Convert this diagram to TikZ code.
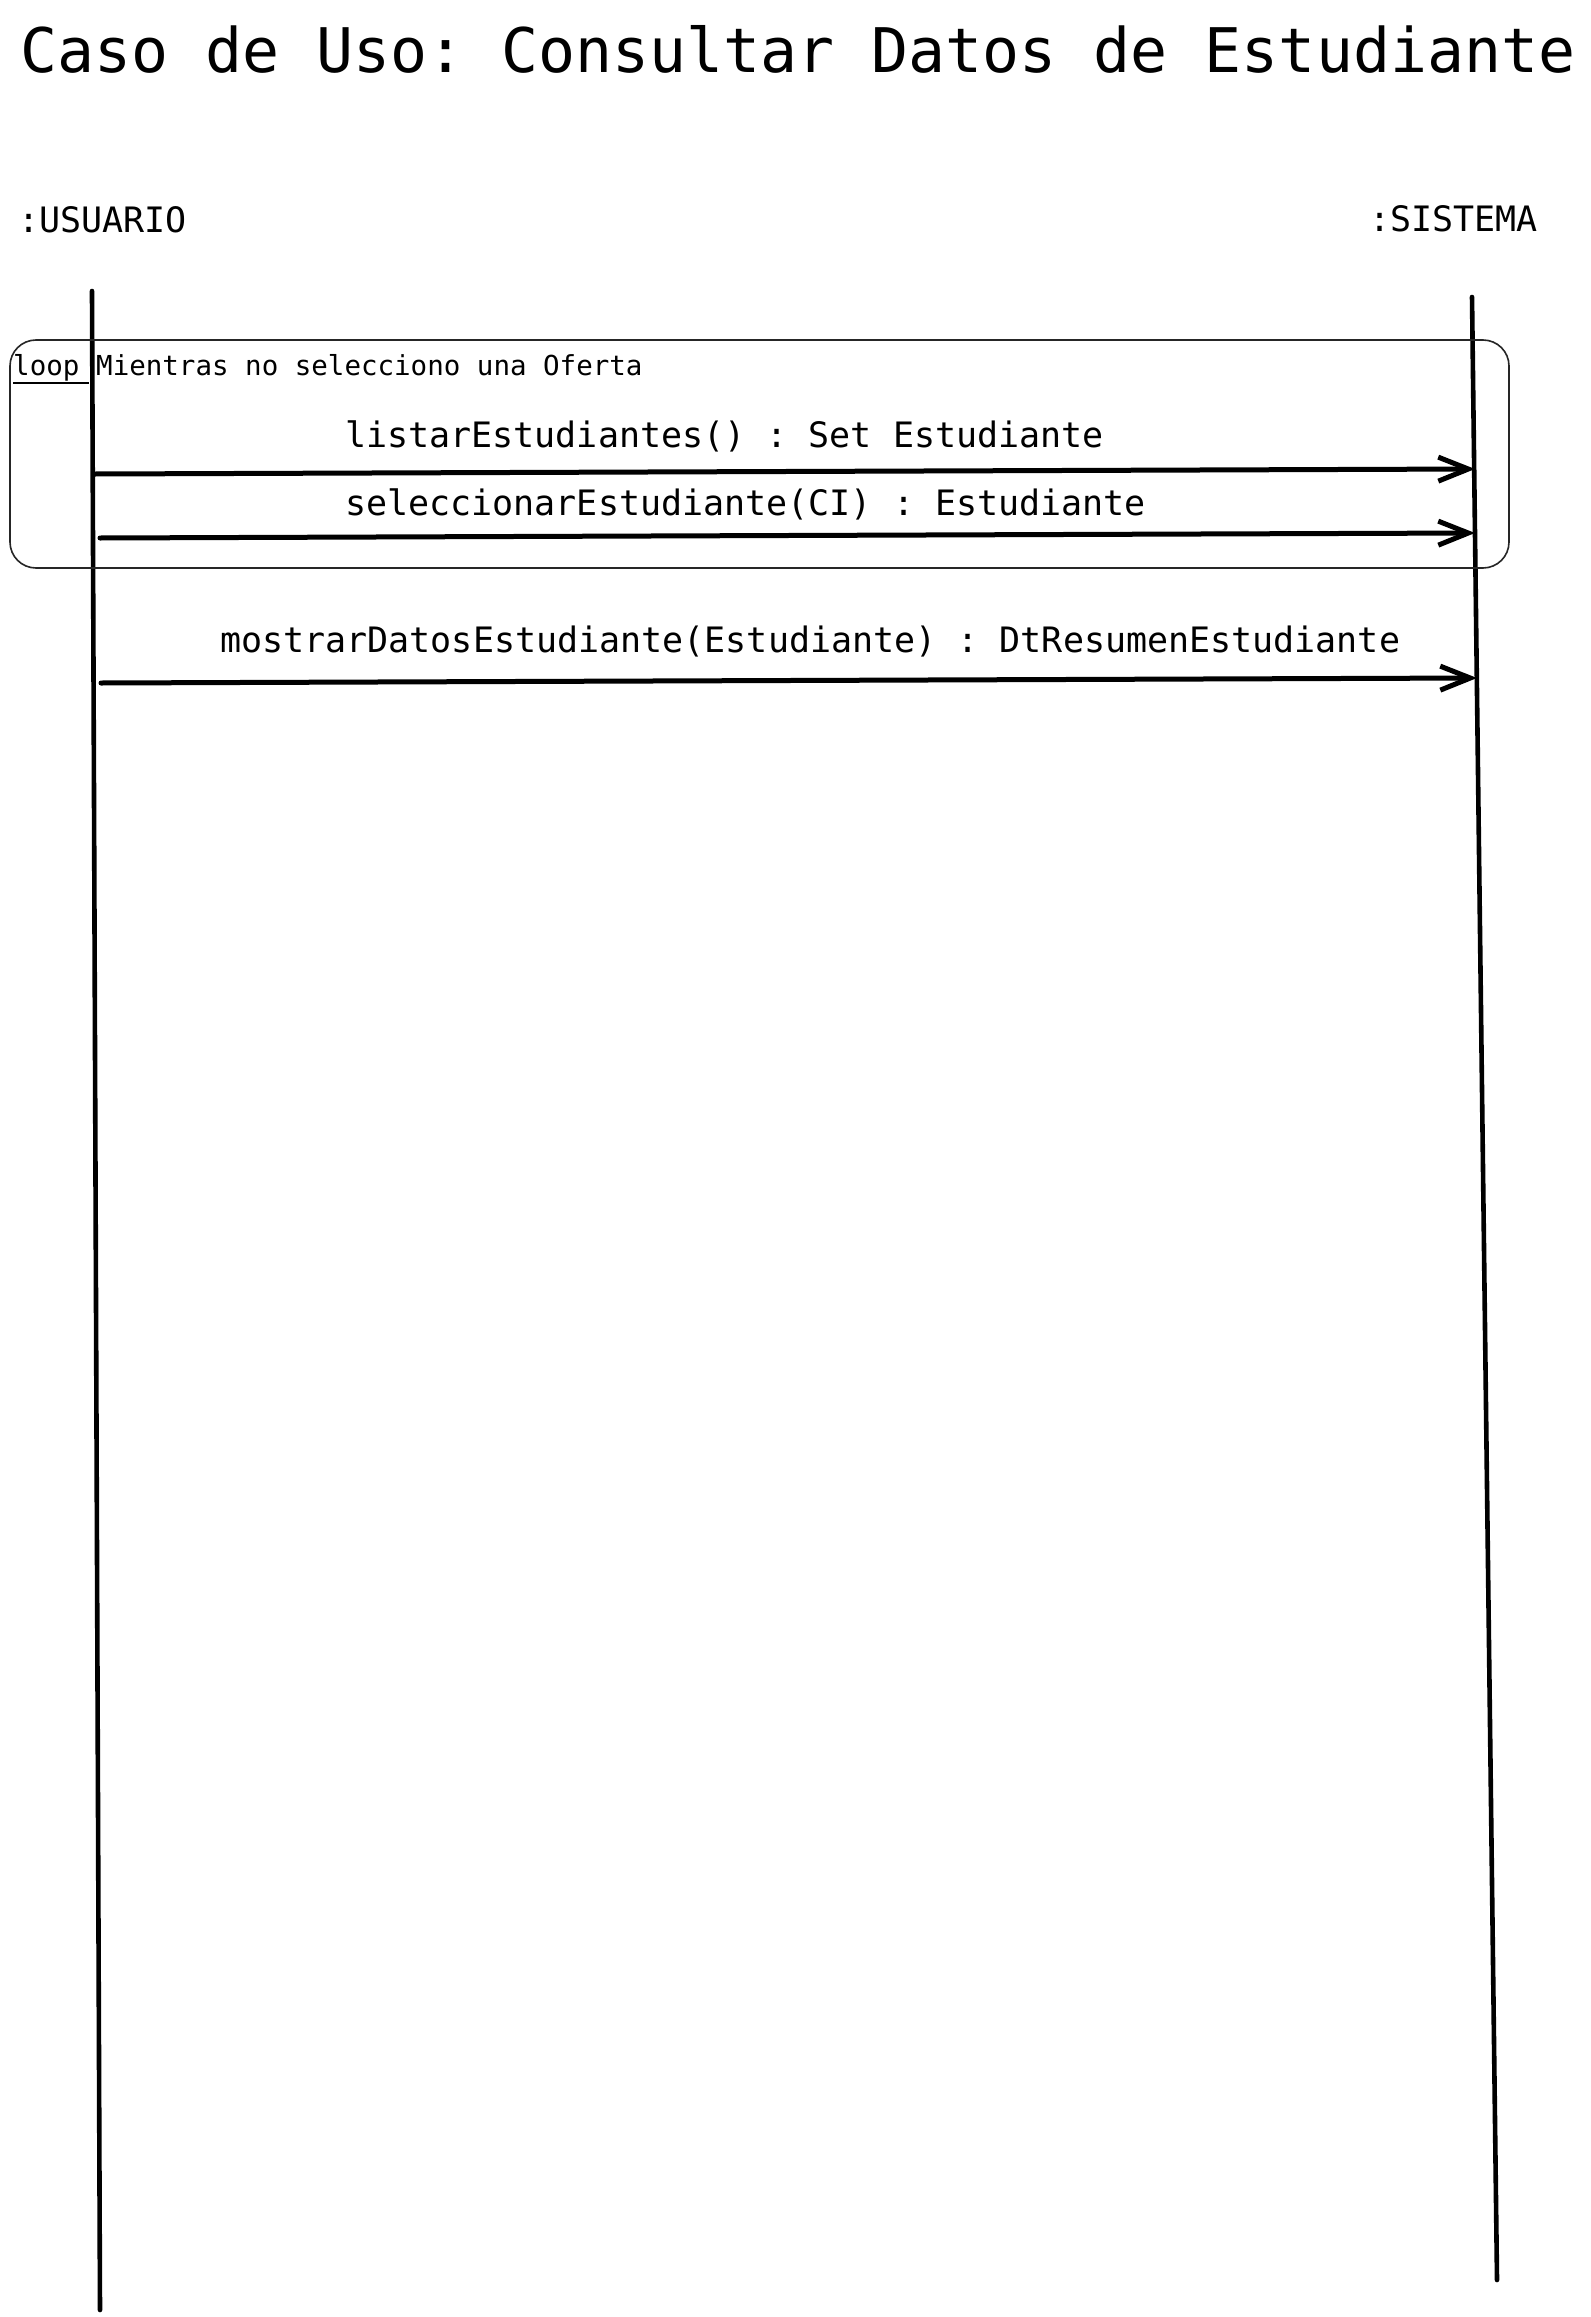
\documentclass[tikz,border=0pt]{standalone}
\usepackage{fontspec}
\setmonofont{DejaVu Sans Mono}
\usetikzlibrary{arrows.meta}
\begin{document}
\begin{tikzpicture}[x=1pt,y=-1pt,
  txt/.style={inner sep=0pt, anchor=base west, text=black},
  titlefont/.style={font=\ttfamily\fontsize{61.5}{70}\selectfont},
  actorfont/.style={font=\ttfamily\fontsize{35}{40}\selectfont},
  msgfont/.style={font=\ttfamily\fontsize{35}{40}\selectfont},
  loopfont/.style={font=\ttfamily\fontsize{27.5}{32}\selectfont},
  lifeline/.style={line width=4.6pt, line cap=round},
  msgarrow/.style={line width=5pt, line cap=round, -{Straight Barb[length=30pt,width=24pt]}},
  frame/.style={line width=1.6pt, draw=black!85, rounded corners=26pt}
]
\useasboundingbox[fill=white] (0,0) rectangle (1590,2317);

% title
\node[txt, titlefont] (title) at (20,73) {Caso de Uso: Consultar Datos de Estudiante};

% actors
\node[txt, actorfont] (usuario) at (18,233) {:USUARIO};
\node[txt, actorfont] (sistema) at (1369,232) {:SISTEMA};

% lifelines
\coordinate (uTop) at (92,291);
\coordinate (uBot) at (100,2310);
\coordinate (sTop) at (1472,297);
\coordinate (sBot) at (1497,2280);
\draw[lifeline] (uTop) -- (uBot);
\draw[lifeline] (sTop) -- (sBot);

% loop frame
\coordinate (fTL) at (10,340);
\coordinate (fBR) at (1509,568);
\draw[frame] (fTL) rectangle (fBR);
\node[txt, loopfont] (looplbl) at (13,375) {loop};
\node[txt, loopfont] (loopcond) at (96,375) {Mientras no selecciono una Oferta};
\coordinate (ulA) at (13,383);
\coordinate (ulB) at (89,383);
\draw[line width=1.5pt] (ulA) -- (ulB);

% messages
\coordinate (m1a) at (95,474);
\coordinate (m1b) at (1475,469);
\node[txt, msgfont] (m1lbl) at (345,447) {listarEstudiantes() : Set Estudiante};
\draw[msgarrow] (m1a) -- (m1b);

\coordinate (m2a) at (100,538);
\coordinate (m2b) at (1475,533);
\node[txt, msgfont] (m2lbl) at (345,515) {seleccionarEstudiante(CI) : Estudiante};
\draw[msgarrow] (m2a) -- (m2b);

\coordinate (m3a) at (101,683);
\coordinate (m3b) at (1477,678);
\node[txt, msgfont] (m3lbl) at (220,652) {mostrarDatosEstudiante(Estudiante) : DtResumenEstudiante};
\draw[msgarrow] (m3a) -- (m3b);
\end{tikzpicture}
\end{document}
